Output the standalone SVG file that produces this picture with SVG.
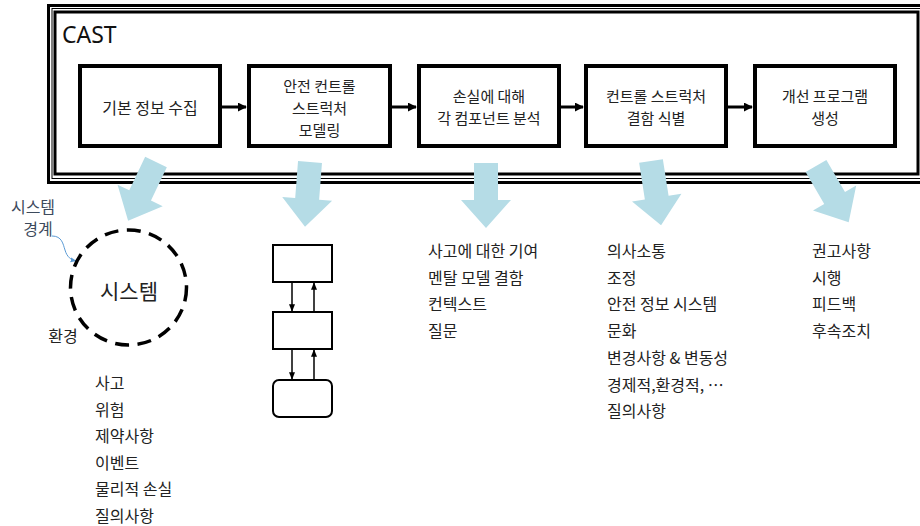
<svg xmlns="http://www.w3.org/2000/svg" width="920" height="526" viewBox="0 0 920 526">
<defs>
<style>
.t{font-family:"Noto Sans CJK KR","Noto Sans",sans-serif;font-size:16px;fill:#222}
.m{font-size:15px}
.c{text-anchor:middle;dominant-baseline:central}
.l{dominant-baseline:central}
.box{fill:#fff;stroke:#000;stroke-width:4}
.sbox{fill:#fff;stroke:#000;stroke-width:2}
.flow{stroke:#000;stroke-width:3;fill:none}
.thin{stroke:#000;stroke-width:1.5;fill:none}
.blue{fill:#b5dce6}
</style>
<polygon id="barrow" points="-12,0 12,0 12,37 25,37 0,65 -25,37 -12,37"/>
<marker id="ah" viewBox="0 0 10 10" refX="9" refY="5" markerWidth="3" markerHeight="3" orient="auto" markerUnits="strokeWidth"><path d="M0,0 L10,5 L0,10 z" fill="#000"/></marker>
<marker id="ahs" viewBox="0 0 10 10" refX="9" refY="5" markerWidth="5" markerHeight="5" orient="auto" markerUnits="strokeWidth"><path d="M0,1 L10,5 L0,9 z" fill="#000"/></marker>
<marker id="ahb" viewBox="0 0 10 10" refX="9" refY="5" markerWidth="6" markerHeight="6" orient="auto" markerUnits="strokeWidth"><path d="M0,1 L10,5 L0,9 z" fill="#5b9bd5"/></marker>
</defs>
<rect width="920" height="526" fill="#fff"/>

<g id="frame">
<rect x="48.5" y="5.5" width="900" height="177" fill="none" stroke="#000" stroke-width="3"/>
<rect x="52" y="8.5" width="900" height="170" fill="none" stroke="#000" stroke-width="1"/>
<rect x="55" y="12" width="863" height="162" fill="none" stroke="#000" stroke-width="3"/>
<text x="62" y="43" style="font-family:'Noto Sans','Open Sans',sans-serif;font-size:23px;fill:#111">CAST</text>
</g>

<g id="step1"><rect class="box" x="80" y="66" width="140" height="80"/><text class="t c" x="150" y="107">기본 정보 수집</text></g>
<g id="step2"><rect class="box" x="249" y="66" width="141" height="80"/><text class="t m c" x="319.5" y="85">안전 컨트롤</text><text class="t m c" x="319.5" y="107">스트럭처</text><text class="t m c" x="319.5" y="129">모델링</text></g>
<g id="step3"><rect class="box" x="419" y="66" width="140" height="80"/><text class="t m c" x="489" y="95.5">손실에 대해</text><text class="t m c" x="489" y="117.5">각 컴포넌트 분석</text></g>
<g id="step4"><rect class="box" x="586" y="66" width="140" height="80"/><text class="t m c" x="656" y="95.5">컨트롤 스트럭처</text><text class="t m c" x="656" y="117.5">결함 식별</text></g>
<g id="step5"><rect class="box" x="755" y="66" width="140" height="80"/><text class="t m c" x="825" y="95.5">개선 프로그램</text><text class="t m c" x="825" y="117.5">생성</text></g>

<g id="connectors">
<line class="flow" x1="222" y1="107" x2="246" y2="107" marker-end="url(#ah)"/>
<line class="flow" x1="392" y1="107" x2="416" y2="107" marker-end="url(#ah)"/>
<line class="flow" x1="561" y1="107" x2="583" y2="107" marker-end="url(#ah)"/>
<line class="flow" x1="728" y1="107" x2="752" y2="107" marker-end="url(#ah)"/>
<g class="blue">
<use href="#barrow" transform="translate(156,162) rotate(25.4)"/>
<use href="#barrow" transform="translate(310,162) rotate(4.4)"/>
<use href="#barrow" transform="translate(486,163)"/>
<use href="#barrow" transform="translate(651,161) rotate(-8.9)"/>
<use href="#barrow" transform="translate(816,166) rotate(-30.2)"/>
</g>
<path d="M52,236 C62,236 63,244 65,250 C67,257 71,260 76,261" fill="none" stroke="#5b9bd5" stroke-width="1" marker-end="url(#ahb)"/>
<line class="thin" x1="292" y1="282" x2="292" y2="311" marker-end="url(#ahs)"/>
<line class="thin" x1="314" y1="312" x2="314" y2="283" marker-end="url(#ahs)"/>
<line class="thin" x1="292" y1="349" x2="292" y2="379" marker-end="url(#ahs)"/>
<line class="thin" x1="314" y1="380" x2="314" y2="350" marker-end="url(#ahs)"/>
</g>

<g id="system">
<ellipse cx="128.5" cy="287.5" rx="58" ry="57.5" fill="none" stroke="#000" stroke-width="3.5" stroke-dasharray="14 8.5"/>
<text class="c" x="129" y="290" style="font-family:'Noto Sans CJK KR',sans-serif;font-size:21px;fill:#222">시스템</text>
</g>
<g id="boundary-label"><text class="t c" x="33" y="206" style="fill:#3d4a5c">시스템</text><text class="t c" x="38" y="228" style="fill:#3d4a5c">경계</text></g>
<g id="env-label"><text class="t c" x="63" y="335">환경</text></g>

<g id="control-structure">
<rect class="sbox" x="273" y="245" width="59" height="37"/>
<rect class="sbox" x="273" y="312" width="59" height="37"/>
<rect class="sbox" x="273" y="380" width="59" height="37" rx="6"/>
</g>

<g id="list1">
<text class="t l" x="95" y="382">사고</text>
<text class="t l" x="95" y="408.5">위험</text>
<text class="t l" x="95" y="435">제약사항</text>
<text class="t l" x="95" y="461.5">이벤트</text>
<text class="t l" x="95" y="488">물리적 손실</text>
<text class="t l" x="95" y="514.5">질의사항</text>
</g>
<g id="list3">
<text class="t l" x="428" y="250">사고에 대한 기여</text>
<text class="t l" x="428" y="276.7">멘탈 모델 결함</text>
<text class="t l" x="428" y="303.4">컨텍스트</text>
<text class="t l" x="428" y="330.1">질문</text>
</g>
<g id="list4">
<text class="t l" x="607" y="250">의사소통</text>
<text class="t l" x="607" y="276.7">조정</text>
<text class="t l" x="607" y="303.4">안전 정보 시스템</text>
<text class="t l" x="607" y="330.1">문화</text>
<text class="t l" x="607" y="356.8">변경사항 &amp; 변동성</text>
<text class="t l" x="607" y="383.5">경제적,환경적, …</text>
<text class="t l" x="607" y="410.2">질의사항</text>
</g>
<g id="list5">
<text class="t l" x="812" y="250">권고사항</text>
<text class="t l" x="812" y="276.7">시행</text>
<text class="t l" x="812" y="303.4">피드백</text>
<text class="t l" x="812" y="330.1">후속조치</text>
</g>
</svg>
